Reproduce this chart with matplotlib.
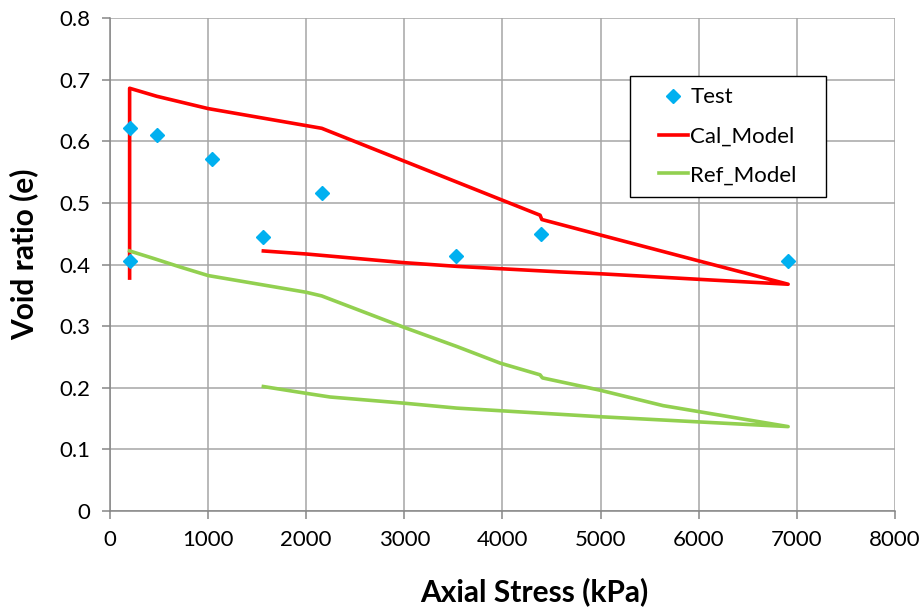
import matplotlib
matplotlib.use('Agg')
import matplotlib.pyplot as plt
from matplotlib.patches import Rectangle

# test data
test_x = [200, 200, 476, 1037, 1563, 2158, 3527, 4393, 6908]
test_e = [0.622, 0.405, 0.610, 0.572, 0.445, 0.516, 0.414, 0.450, 0.406]

# calibrated model: loading then unloading
cal_x = [200, 200, 476, 1000, 2158, 4383, 4401, 4995, 5997, 6911,
         5997, 4995, 4587, 3534, 2997, 2005, 1563]
cal_e = [0.378, 0.686, 0.673, 0.653, 0.621, 0.480, 0.473, 0.448, 0.406, 0.368,
         0.376, 0.385, 0.388, 0.397, 0.403, 0.417, 0.422]

# reference model
ref_x = [200, 441, 714, 1002, 1998, 2158, 2997, 3534, 3976, 4383, 4407, 4995, 5637, 6911,
         4995, 3534, 2997, 2243, 1998, 1563]
ref_e = [0.422, 0.410, 0.396, 0.382, 0.355, 0.349, 0.298, 0.267, 0.240, 0.221, 0.216, 0.196, 0.171, 0.137,
         0.153, 0.167, 0.175, 0.185, 0.191, 0.202]

plt.rcParams['font.family'] = ['Lato', 'DejaVu Sans']

fig, ax = plt.subplots(figsize=(9.22, 6.12), dpi=100)
fig.subplots_adjust(left=0.1193, right=0.9707, top=0.9706, bottom=0.165)

ax.plot(test_x, test_e, linestyle='none', marker='D', markersize=7.5,
        color='#00b0f0', label='Test', zorder=4)
ax.plot(cal_x, cal_e, color='#ff0000', lw=2.6, label='Cal_Model', zorder=3)
ax.plot(ref_x, ref_e, color='#92d050', lw=2.6, label='Ref_Model', zorder=3)

ax.set_xlim(0, 8000)
ax.set_ylim(0, 0.8)
ax.set_xticks(range(0, 8001, 1000))
ax.set_yticks([0, 0.1, 0.2, 0.3, 0.4, 0.5, 0.6, 0.7, 0.8])
ax.set_yticklabels(['0', '0.1', '0.2', '0.3', '0.4', '0.5', '0.6', '0.7', '0.8'])

ax.grid(True, color='#a6a6a6', lw=1.1)
ax.set_axisbelow(True)
for s in ['top', 'right']:
    ax.spines[s].set_visible(False)
for s in ['left', 'bottom']:
    ax.spines[s].set_color('#868686')
    ax.spines[s].set_linewidth(1.1)
ax.tick_params(axis='both', labelsize=16, color='#868686', length=6, width=1.1, pad=8)

ax.set_xlabel('Axial Stress (kPa)', fontsize=21.5, fontweight='bold', labelpad=19)
ax.set_ylabel('Void ratio (e)', fontsize=21.5, fontweight='bold', labelpad=15)
ax.xaxis.label.set_x(0.541)
ax.yaxis.label.set_y(0.521)

# legend box (Excel style, wider side padding)
box = Rectangle((0.6624, 0.637), 0.912 - 0.6624, 0.882 - 0.637, transform=ax.transAxes,
                facecolor='white', edgecolor='black', lw=1.0, zorder=5)
ax.add_patch(box)
leg = ax.legend(loc='center', bbox_to_anchor=(0.787, 0.760), fontsize=16,
                frameon=False, borderpad=0.2, labelspacing=0.85,
                handlelength=1.3, handletextpad=0.1)
leg.set_zorder(6)

fig.savefig('out.png', dpi=100)
